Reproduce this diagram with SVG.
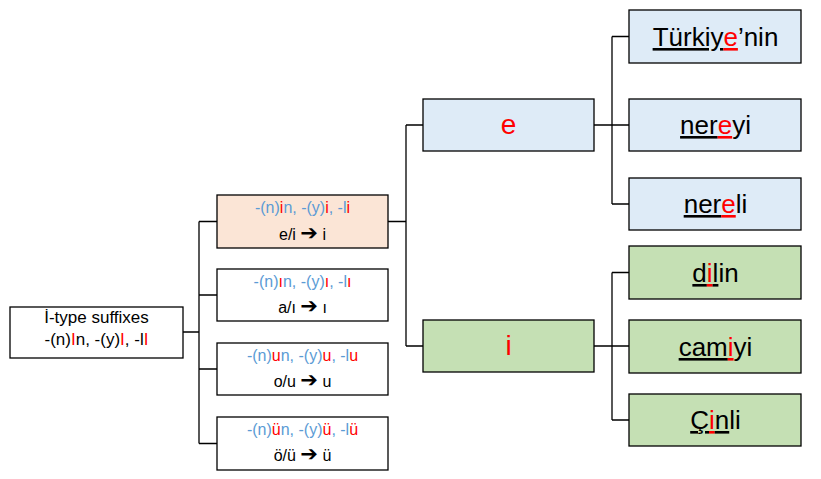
<svg xmlns="http://www.w3.org/2000/svg" width="821" height="479" viewBox="0 0 821 479">
<style>
text{font-family:"Liberation Sans",Arial,sans-serif;text-anchor:middle;fill:#000}
.box{stroke:#000;stroke-width:1.3}
.white{fill:#fff}.peach{fill:#fbe5d6}.blue{fill:#deebf7}.green{fill:#c5e0b4}
.b{fill:#5b9bd5}.r{fill:#ff0000}
.s2{font-size:16px}.s1{font-size:17px}.s3{font-size:28px}.s4{font-size:26px}
.u{text-decoration:underline}
.arr{font-family:"DejaVu Sans",sans-serif;font-size:21px}
#connectors path{fill:none;stroke:#000;stroke-width:1.3}
</style>
<rect width="821" height="479" fill="#fff"/>
<g id="connectors">
<path d="M183 332H199M199 221.5V443.5M199 221.5H217M199 295H217M199 369H217M199 443.5H217"/>
<path d="M388 221.5H406M406 125V346M406 125H423M406 346H423"/>
<path d="M594 125H612M612 36.5V204M612 36.5H629M612 125H629M612 204H629"/>
<path d="M594 346H612M612 272.5V420M612 272.5H629M612 346H629M612 420H629"/>
</g>
<g id="root">
<rect class="box white" x="10" y="307" width="173" height="51"/>
<text class="s1" x="96.5" y="323">İ-type suffixes</text>
<text class="s1" x="96.5" y="345">-(n)<tspan class="r">I</tspan>n, -(y)<tspan class="r">I</tspan>, -l<tspan class="r">I</tspan></text>
</g>
<g id="suffix-i">
<rect class="box peach" x="217" y="195" width="171" height="53"/>
<text class="s2" x="302.5" y="213"><tspan class="b">-(n)</tspan><tspan class="r">i</tspan><tspan class="b">n, -(y)</tspan><tspan class="r">i</tspan><tspan class="b">, -l</tspan><tspan class="r">i</tspan></text>
<text class="s2" x="302.5" y="240">e/i <tspan class="arr">➔</tspan> i</text>
</g>
<g id="suffix-dotless-i">
<rect class="box white" x="217" y="269" width="171" height="52"/>
<text class="s2" x="302.5" y="287"><tspan class="b">-(n)</tspan><tspan class="r">ı</tspan><tspan class="b">n, -(y)</tspan><tspan class="r">ı</tspan><tspan class="b">, -l</tspan><tspan class="r">ı</tspan></text>
<text class="s2" x="302.5" y="313">a/ı <tspan class="arr">➔</tspan> ı</text>
</g>
<g id="suffix-u">
<rect class="box white" x="217" y="343" width="171" height="52"/>
<text class="s2" x="302.5" y="361"><tspan class="b">-(n)</tspan><tspan class="r">u</tspan><tspan class="b">n, -(y)</tspan><tspan class="r">u</tspan><tspan class="b">, -l</tspan><tspan class="r">u</tspan></text>
<text class="s2" x="302.5" y="387">o/u <tspan class="arr">➔</tspan> u</text>
</g>
<g id="suffix-u-umlaut">
<rect class="box white" x="217" y="417" width="171" height="53"/>
<text class="s2" x="302.5" y="435"><tspan class="b">-(n)</tspan><tspan class="r">ü</tspan><tspan class="b">n, -(y)</tspan><tspan class="r">ü</tspan><tspan class="b">, -l</tspan><tspan class="r">ü</tspan></text>
<text class="s2" x="302.5" y="461">ö/ü <tspan class="arr">➔</tspan> ü</text>
</g>
<g id="vowel-e">
<rect class="box blue" x="423" y="99" width="171" height="52"/>
<text class="s3 r" x="508.5" y="134">e</text>
</g>
<g id="vowel-i">
<rect class="box green" x="423" y="320" width="171" height="52"/>
<text class="s3 r" x="508.5" y="355">i</text>
</g>
<g id="turkiyenin">
<rect class="box blue" x="629" y="10" width="172" height="53"/>
<text class="s4" x="715.5" y="46"><tspan class="u">Türkiy</tspan><tspan class="u r">e</tspan>’nin</text>
</g>
<g id="nereyi">
<rect class="box blue" x="629" y="99" width="172" height="52"/>
<text class="s4" x="715.5" y="134"><tspan class="u">ner</tspan><tspan class="u r">e</tspan>yi</text>
</g>
<g id="nereli">
<rect class="box blue" x="629" y="178" width="172" height="52"/>
<text class="s4" x="715.5" y="213"><tspan class="u">ner</tspan><tspan class="u r">e</tspan>li</text>
</g>
<g id="dilin">
<rect class="box green" x="629" y="246" width="172" height="53"/>
<text class="s4" x="715.5" y="282"><tspan class="u">d</tspan><tspan class="u r">i</tspan><tspan class="u">l</tspan>in</text>
</g>
<g id="camiyi">
<rect class="box green" x="629" y="320" width="172" height="53"/>
<text class="s4" x="715.5" y="356"><tspan class="u">cam</tspan><tspan class="u r">i</tspan>yi</text>
</g>
<g id="cinli">
<rect class="box green" x="629" y="394" width="172" height="52"/>
<text class="s4" x="715.5" y="429"><tspan class="u">Ç</tspan><tspan class="u r">i</tspan><tspan class="u">n</tspan>li</text>
</g>
</svg>
